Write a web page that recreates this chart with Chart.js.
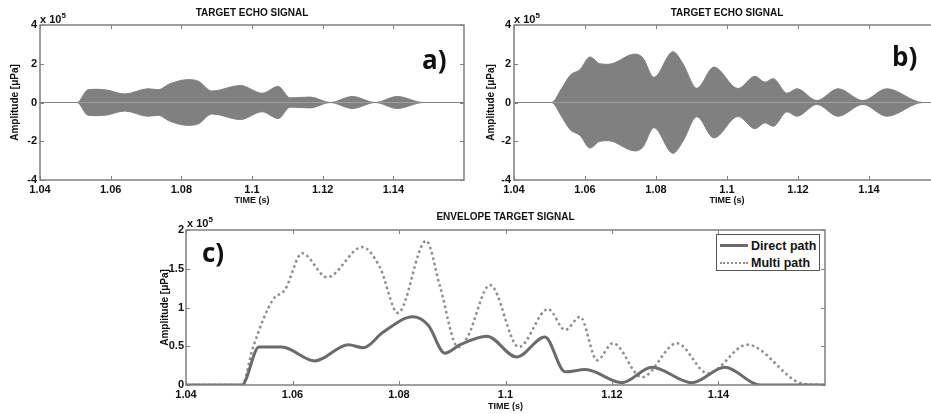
<!DOCTYPE html>
<html>
<head>
<meta charset="utf-8">
<script src="https://cdn.jsdelivr.net/npm/chart.js@4.4.1/dist/chart.umd.min.js"></script>
<style>
  html, body { margin: 0; padding: 0; background: #fff; }
  body { width: 931px; height: 414px; position: relative; overflow: hidden;
         font-family: "Liberation Sans", Arial, sans-serif; }
  canvas, .txt { position: absolute; }
  .exp { font-weight: bold; font-size: 11px; line-height: 11px; color: #111; white-space: nowrap; }
  .exp sup { font-size: 8px; }
  .tag { font-family: "Open Sans", sans-serif; font-weight: 700; font-size: 26px; line-height: 26px; color: #111; }
  #legend { position: absolute; left: 716px; top: 234px; width: 104px; height: 37px; box-sizing: border-box;
            border: 1px solid #555; background: #fff; padding-top: 2px;
            font: bold 12.5px "Liberation Sans", Arial, sans-serif; color: #111; }
  #legend .row { height: 17px; display: flex; align-items: center; white-space: nowrap; }
  #legend .swatch { display: inline-block; width: 28px; margin: 0 3px 0 3px; }
</style>
</head>
<body>
<canvas id="chartA" width="470" height="210" style="left:0;top:0"></canvas>
<canvas id="chartB" width="478" height="210" style="left:470px;top:0"></canvas>
<canvas id="chartC" width="700" height="214" style="left:150px;top:200px"></canvas>

<div class="txt exp" style="left:40px;top:10px">x 10<sup>5</sup></div>
<div class="txt exp" style="left:514px;top:10px">x 10<sup>5</sup></div>
<div class="txt exp" style="left:187px;top:214px">x 10<sup>5</sup></div>
<div class="txt tag" style="left:422px;top:46px">a)</div>
<div class="txt tag" style="left:892px;top:43px">b)</div>
<div class="txt tag" style="left:202px;top:239px">c)</div>
<div id="legend"></div>

<script>
// ================= DATA =================
// time in seconds, amplitude in units of 10^5 µPa
const timeTicks = [1.04, 1.06, 1.08, 1.1, 1.12, 1.14];
const echoTicks = [-4, -2, 0, 2, 4];
const envTicks = [0, 0.5, 1, 1.5, 2];

// a) echo signal, direct path (upper envelope of the filled waveform)
const aTime = [1.04, 1.0505, 1.0536, 1.0565, 1.059, 1.064, 1.0706, 1.0734, 1.0768, 1.0819, 1.0848,
               1.0887, 1.0967, 1.1029, 1.1074, 1.1108, 1.1165, 1.1221, 1.1284, 1.1349, 1.1411, 1.1485, 1.16];
const aAmp  = [0, 0, 0.66, 0.68, 0.64, 0.44, 0.71, 0.66, 0.97, 1.18, 1.1,
               0.59, 0.88, 0.48, 0.83, 0.24, 0.28, 0, 0.31, 0, 0.31, 0, 0];

// b) echo signal, multi path
const bTime = [1.04, 1.0506, 1.0534, 1.0558, 1.0586, 1.0614, 1.0642, 1.0665, 1.0741, 1.0763, 1.0794,
               1.0848, 1.0876, 1.0915, 1.0963, 1.1031, 1.1079, 1.1107, 1.113, 1.1169, 1.1197, 1.1253,
               1.1313, 1.1383, 1.145, 1.1552, 1.16];
const bAmp  = [0, 0, 0.72, 1.4, 1.7, 2.35, 2.0, 1.97, 2.5, 2.3, 1.3,
               2.62, 2.0, 0.73, 1.83, 0.72, 1.35, 1.05, 1.23, 0.48, 0.71, 0.1,
               0.71, 0.1, 0.71, 0, 0];

// c) envelopes
const directTime = [1.04, 1.0505, 1.0537, 1.058, 1.0642, 1.0705, 1.0733, 1.077, 1.0826, 1.0855, 1.0886,
                    1.0915, 1.0965, 1.1021, 1.1074, 1.1112, 1.115, 1.1219, 1.1275, 1.135, 1.1412, 1.1478, 1.16];
const directEnv  = [0, 0, 0.49, 0.49, 0.31, 0.52, 0.48, 0.68, 0.88, 0.77, 0.41,
                    0.52, 0.63, 0.36, 0.62, 0.17, 0.2, 0.03, 0.23, 0.03, 0.23, 0, 0];
const multiTime = [1.04, 1.0505, 1.0526, 1.0563, 1.0586, 1.0618, 1.0665, 1.0731, 1.0764, 1.0798, 1.0851,
                   1.0877, 1.0911, 1.0928, 1.0971, 1.1025, 1.108, 1.1112, 1.114, 1.1172, 1.1202, 1.1256,
                   1.1322, 1.138, 1.1454, 1.1557, 1.16];
const multiEnv  = [0, 0, 0.49, 1.1, 1.23, 1.7, 1.39, 1.78, 1.52, 0.93, 1.86,
                   1.27, 0.49, 0.61, 1.29, 0.49, 0.98, 0.71, 0.88, 0.32, 0.54, 0.1,
                   0.54, 0.15, 0.52, 0.02, 0];

// ================= HELPERS =================
const FAMILY = "'Liberation Sans', Arial, sans-serif";
const tickFont = { family: FAMILY, size: 11, weight: 'bold' };
const xLabelFont = { family: FAMILY, size: 9, weight: 'bold' };
const yLabelFont = { family: FAMILY, size: 10, weight: 'bold' };
const titleFont = { family: FAMILY, size: 10, weight: 'bold' };

const pts = (xs, ys, sign = 1) => xs.map((x, i) => ({ x: x, y: sign * ys[i] }));

// matlab style frame with inward tick marks on all four sides
const boxPlugin = {
  id: 'matlabBox',
  afterDraw(chart) {
    const { ctx, chartArea: a, scales } = chart;
    ctx.save();
    ctx.strokeStyle = '#808080';
    ctx.lineWidth = 1.5;
    ctx.strokeRect(a.left, a.top, a.right - a.left, a.bottom - a.top);
    ctx.lineWidth = 1;
    ctx.beginPath();
    scales.x.ticks.forEach(t => {
      const px = Math.round(scales.x.getPixelForValue(t.value)) + 0.5;
      ctx.moveTo(px, a.bottom); ctx.lineTo(px, a.bottom - 4);
      ctx.moveTo(px, a.top); ctx.lineTo(px, a.top + 4);
    });
    scales.y.ticks.forEach(t => {
      const py = Math.round(scales.y.getPixelForValue(t.value)) + 0.5;
      ctx.moveTo(a.left, py); ctx.lineTo(a.left + 4, py);
      ctx.moveTo(a.right, py); ctx.lineTo(a.right - 4, py);
    });
    ctx.stroke();
    ctx.restore();
  }
};

function scalesFor(yTicks, yWidth, xHeight, xTitlePad, yTickPad) {
  return {
    x: {
      type: 'linear', min: 1.04, max: 1.16,
      grid: { display: false, drawTicks: false }, border: { display: false },
      afterBuildTicks: s => { s.ticks = timeTicks.map(v => ({ value: v })); },
      afterFit: s => { s.height = xHeight; },
      ticks: { color: '#111', font: tickFont, padding: 3, maxRotation: 0, autoSkip: false,
               callback: v => String(v) },
      title: { display: true, text: 'TIME (s)', color: '#111', font: xLabelFont,
               padding: { top: 0, bottom: xTitlePad } }
    },
    y: {
      type: 'linear', min: yTicks[0], max: yTicks[yTicks.length - 1],
      grid: { display: false, drawTicks: false }, border: { display: false },
      afterBuildTicks: s => { s.ticks = yTicks.map(v => ({ value: v })); },
      afterFit: s => { s.width = yWidth; },
      ticks: { color: '#111', font: tickFont, padding: yTickPad, autoSkip: false,
               callback: v => String(v) },
      title: { display: true, text: 'Amplitude [\u03bcPa]', color: '#111', font: yLabelFont,
               padding: { top: 3, bottom: 0 } }
    }
  };
}

function titleFor(text, top, bottom) {
  return { display: true, text: text, color: '#111', font: titleFont, fullSize: false,
           padding: { top: top, bottom: bottom } };
}

// ================= ECHO SIGNALS =================
function echoChart(id, time, amp, pad, yWidth) {
  const style = {
    borderColor: '#808080', backgroundColor: '#808080', borderWidth: 1,
    pointRadius: 0, fill: 'origin', tension: 0.4, cubicInterpolationMode: 'monotone'
  };
  return new Chart(document.getElementById(id), {
    type: 'line',
    data: {
      datasets: [
        Object.assign({ data: pts(time, amp) }, style),
        Object.assign({ data: pts(time, amp, -1) }, style)
      ]
    },
    options: {
      responsive: false, animation: false, devicePixelRatio: 1,
      layout: { padding: pad },
      plugins: { legend: { display: false }, tooltip: { enabled: false },
                 title: titleFor('TARGET ECHO SIGNAL', 7, 6) },
      scales: scalesFor(echoTicks, yWidth, 30, 4, 3)
    },
    plugins: [boxPlugin]
  });
}

echoChart('chartA', aTime, aAmp, { left: 6, right: 6, top: 0, bottom: 0 }, 34);
echoChart('chartB', bTime, bAmp, { left: 12, right: 8, top: 0, bottom: 0 }, 32);

// ================= ENVELOPES =================
const envChart = new Chart(document.getElementById('chartC'), {
  type: 'line',
  data: {
    datasets: [
      { label: 'Direct path', data: pts(directTime, directEnv), borderColor: '#6b6b6b', borderWidth: 3,
        pointRadius: 0, fill: false, tension: 0.4, cubicInterpolationMode: 'monotone' },
      { label: 'Multi path', data: pts(multiTime, multiEnv), borderColor: '#8c8c8c', borderWidth: 2.5,
        borderDash: [2.5, 3], pointRadius: 0, fill: false, tension: 0.4, cubicInterpolationMode: 'monotone' }
    ]
  },
  options: {
    responsive: false, animation: false, devicePixelRatio: 1,
    layout: { padding: { left: 6, right: 25, top: 0, bottom: 0 } },
    plugins: { legend: { display: false }, tooltip: { enabled: false },
               title: titleFor('ENVELOPE TARGET SIGNAL', 11, 7) },
    scales: scalesFor(envTicks, 30, 29, 2, 2)
  },
  plugins: [boxPlugin]
});

// legend box inside the plot, built from the datasets
const legendBox = document.getElementById('legend');
envChart.data.datasets.forEach(ds => {
  const row = document.createElement('div');
  row.className = 'row';
  const swatch = document.createElement('span');
  swatch.className = 'swatch';
  swatch.style.borderTop = ds.borderDash
    ? '2px dotted ' + ds.borderColor
    : '3px solid ' + ds.borderColor;
  row.appendChild(swatch);
  row.appendChild(document.createTextNode(ds.label));
  legendBox.appendChild(row);
});
</script>
</body>
</html>
